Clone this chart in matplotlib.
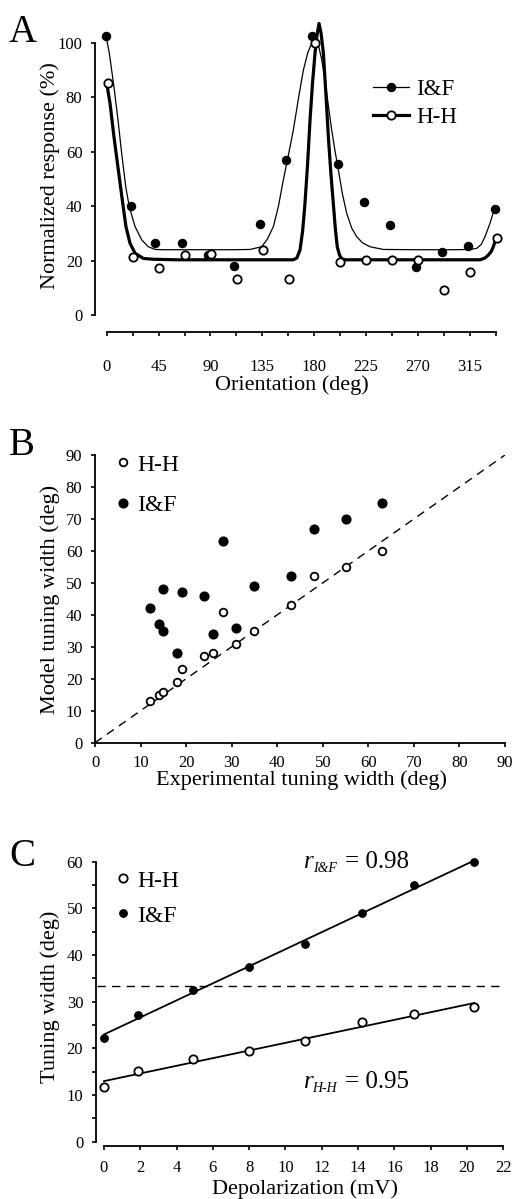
import numpy as np
import matplotlib
matplotlib.use("Agg")
import matplotlib.pyplot as plt
from matplotlib.lines import Line2D
from matplotlib.ticker import MultipleLocator
from matplotlib.transforms import offset_copy

plt.rcParams['font.family'] = ['Liberation Serif', 'DejaVu Serif']
plt.rcParams['lines.scale_dashes'] = False

# ---------------- Panel A data ----------------
orient_if = [-0.6, 20.8, 41.9, 65.1, 88.1, 110.7, 133.0, 155.6, 178.4, 200.9,
             223.5, 246.0, 268.4, 291.2, 313.7, 336.9]
resp_if = [102.6, 40.1, 26.5, 26.5, 21.9, 18.0, 33.6, 57.0, 102.7, 55.5,
           41.5, 33.2, 17.6, 23.3, 25.3, 39.0]
orient_hh = [0.9, 23.1, 45.6, 67.9, 90.2, 113.0, 135.3, 157.9, 180.7, 202.7,
             225.2, 247.8, 270.3, 292.9, 315.5, 338.4]
resp_hh = [85.2, 21.4, 17.4, 21.9, 22.4, 13.2, 23.9, 13.2, 100.0, 19.5,
           20.2, 20.2, 20.2, 9.1, 15.7, 28.2]

# fitted curves
fit_if_x = [-0.6, 2.3, 6.3, 9.8, 13.0, 16.5, 19.6, 24.6, 30.4, 36.1, 41.9, 50, 80,
            110, 124.3, 134.5, 139.5, 144.6, 149, 153.2, 157.5, 161.9, 166.5, 170.6,
            174.5, 177.9, 180.7, 183.5, 186.5, 189.4, 192.3, 195.2, 198.0, 201.0,
            204.5, 208.2, 212.5, 216.9, 222.0, 228.4, 240.0, 270, 300, 315, 321.0,
            325.0, 328.2, 332.5, 336.3]
fit_if_y = [102.6, 96.2, 83.9, 71.7, 59.4, 47.2, 39.8, 32.5, 27.6, 25.1, 24.1, 24.0, 24.0,
            24.0, 24.1, 25.1, 28.0, 32.5, 40.0, 49.6, 58.5, 68.0, 80.0, 90.0,
            96.5, 99.9, 101.0, 99.5, 94.0, 86.4, 77.0, 68.0, 60.5, 53.3,
            44.5, 37.4, 32.0, 28.8, 26.5, 25.1, 24.1, 24.0, 24.0, 24.1, 24.5,
            26.0, 28.8, 33.7, 38.9]
fit_hh_x = [0.0, 2.9, 6.3, 10.1, 13.9, 16.7, 20.2, 24.6, 31.8, 40.4, 60, 100, 140,
            161.9, 165.0, 167.7, 170.0, 172.0, 174.2, 176.4, 178.5, 180.7, 182.5,
            184.2, 186.0, 188.0, 190.2, 192.3, 194.5, 196.6, 198.3, 200.0, 202.0,
            203.9, 207.0, 230, 270, 300, 323.9, 328.0, 331.0, 333.5, 335.4, 337.8]
fit_hh_y = [85.2, 77.8, 65.5, 53.3, 41.1, 32.5, 26.4, 22.7, 20.8, 20.5, 20.3, 20.3, 20.3,
            20.3, 21.0, 23.9, 31.0, 41.0, 55.0, 71.7, 85.0, 96.2, 103.0,
            107.2, 103.5, 96.2, 81.0, 65.5, 52.0, 41.0, 32.0, 25.1, 22.0,
            20.7, 20.3, 20.3, 20.3, 20.3, 20.3, 20.9, 22.0, 23.3, 25.1, 28.2]

# ---------------- Panel B data ----------------
exp_hh = [12, 14, 15, 18, 19, 24, 26, 28, 31, 35, 43, 48, 55, 63]
mod_hh = [13, 15, 16, 19, 23, 27, 28, 41, 31, 35, 43, 52, 55, 60]
exp_if = [12, 14, 15, 15, 18, 19, 24, 26, 28, 31, 35, 43, 48, 55, 63]
mod_if = [42, 37, 35, 48, 28, 47, 46, 34, 63, 36, 49, 52, 67, 70, 75]

# ---------------- Panel C data ----------------
depol = [0.0, 1.9, 4.9, 8.0, 11.1, 14.2, 17.1, 20.4]
width_if = [22.3, 27.2, 32.5, 37.4, 42.3, 48.9, 55.0, 60.0]
width_hh = [11.8, 15.1, 17.8, 19.5, 21.5, 25.6, 27.4, 28.8]
exp_mean_width = 33.4
r_if_sub, r_if_val = 'I&F', '= 0.98'
r_hh_sub, r_hh_val = 'H-H', '= 0.95'

W, H = 513, 1199
fig = plt.figure(figsize=(W / 100, H / 100), dpi=100)


def fx(px):
    return px / W


def fy(py):
    return 1 - py / H


TICK_FS = 12
LABEL_FS = 16
LEG_FS = 17
LETTER_FS = 28

filled = dict(marker='o', ms=6, mfc='black', mec='black', mew=0.8, ls='none')
openm = dict(marker='o', ms=6, mfc='white', mec='black', mew=1.3, ls='none')


def style_axes(ax):
    for s in ('top', 'right'):
        ax.spines[s].set_visible(False)
    for s in ('left', 'bottom'):
        ax.spines[s].set_linewidth(1.3)
    ax.tick_params(which='both', direction='out', length=3, width=1.2,
                   labelsize=TICK_FS)


# ---------------- Panel A ----------------
axA = fig.add_axes([fx(95), fy(332.3), (500 - 95) / W, (332.3 - 15) / H])
style_axes(axA)
axA.set_xlim(-10.15, 341.2)
axA.set_ylim(-6.36, 110.3)
axA.spines['left'].set_bounds(0, 100)
axA.spines['bottom'].set_bounds(0, 337.5)
axA.xaxis.set_minor_locator(MultipleLocator(22.5))
axA.set_xticks(np.arange(0, 316, 45))
axA.set_yticks(np.arange(0, 101, 20))
axA.tick_params(axis='x', which='both', pad=16)
axA.tick_params(axis='y', pad=6)
axA.plot(fit_if_x, fit_if_y, color='black', lw=0.9, solid_joinstyle='round')
axA.plot(fit_hh_x, fit_hh_y, color='black', lw=2.3, solid_joinstyle='round')
axA.plot(orient_if, resp_if, clip_on=False, zorder=3, **filled)
axA.plot(orient_hh, resp_hh, clip_on=False, zorder=4, **openm)
axA.set_ylabel('Normalized response (%)', fontsize=LABEL_FS, va='center')
axA.yaxis.set_label_coords((50 - 95) / 405, (332.3 - 176) / 317.3)
axA.set_xlabel('Orientation (deg)', fontsize=LABEL_FS, va='center')
axA.xaxis.set_label_coords((292 - 95) / 405, -(385 - 332.3) / 317.3)
lineprops_f = {k: v for k, v in filled.items() if k != 'ls'}
lineprops_o = {k: v for k, v in openm.items() if k != 'ls'}
axA.legend(handles=[
    Line2D([], [], color='black', lw=0.9, **lineprops_f),
    Line2D([], [], color='black', lw=2.3, **lineprops_o)],
    labels=['I&F', 'H-H'], loc='upper left', bbox_to_anchor=(fx(373), fy(79)),
    bbox_transform=fig.transFigure, frameon=False, fontsize=LEG_FS - 0.5,
    handlelength=1.55, handletextpad=0.35, labelspacing=0.3, borderpad=0,
    borderaxespad=0)
fig.text(fx(9), fy(42), 'A', fontsize=LETTER_FS, va='baseline', ha='left')

# ---------------- Panel B ----------------
axB = fig.add_axes([fx(95), fy(742.7), (505 - 95) / W, (742.7 - 455) / H])
style_axes(axB)
axB.set_xlim(0, 90)
axB.set_ylim(0, 90)
axB.xaxis.set_major_locator(MultipleLocator(10))
axB.yaxis.set_major_locator(MultipleLocator(10))
axB.tick_params(axis='x', pad=6)
axB.tick_params(axis='y', pad=6)
axB.plot([0, 90], [0, 90], color='black', lw=1.0, dashes=(6, 4.5))
axB.plot(exp_if, mod_if, clip_on=False, zorder=3, **dict(filled, ms=6.5))
axB.plot(exp_hh, mod_hh, clip_on=False, zorder=4, **dict(openm, ms=5.5))
axB.set_ylabel('Model tuning width (deg)', fontsize=LABEL_FS, va='center')
axB.yaxis.set_label_coords((50 - 95) / 410, (742.7 - 599) / 287.7)
axB.set_xlabel('Experimental tuning width (deg)', fontsize=LABEL_FS, va='center')
axB.xaxis.set_label_coords((302 - 95) / 410, -(780 - 742.7) / 287.7)
axB.legend(handles=[
    Line2D([], [], **dict(openm, ms=5.5)),
    Line2D([], [], **dict(filled, ms=6.5))],
    labels=['H-H', 'I&F'], loc='upper left', bbox_to_anchor=(fx(117), fy(454)),
    bbox_transform=fig.transFigure, frameon=False, fontsize=LEG_FS,
    handlelength=0.5, handletextpad=0.35, labelspacing=0.8, borderpad=0,
    borderaxespad=0)
fig.text(fx(9), fy(455), 'B', fontsize=LETTER_FS, va='baseline', ha='left')

# ---------------- Panel C ----------------
axC = fig.add_axes([fx(95.7), fy(1145.7), (503.3 - 95.7) / W, (1145.7 - 850) / H])
style_axes(axC)
axC.set_xlim(-0.457, 22.0)
axC.set_ylim(-0.857, 62.5)
axC.spines['left'].set_bounds(0, 60)
axC.spines['bottom'].set_bounds(0, 22)
axC.xaxis.set_major_locator(MultipleLocator(2))
axC.yaxis.set_major_locator(MultipleLocator(10))
axC.yaxis.set_minor_locator(MultipleLocator(5))
axC.tick_params(axis='x', pad=7)
axC.tick_params(axis='y', pad=6)
xs = np.array([depol[0], depol[-1]])
p_if = np.polyfit(depol, width_if, 1)
p_hh = np.polyfit(depol, width_hh, 1)
axC.plot(xs, np.polyval(p_if, xs), color='black', lw=1.3)
axC.plot(xs, np.polyval(p_hh, xs), color='black', lw=1.3)
axC.plot([-0.4, 21.8], [exp_mean_width, exp_mean_width], color='black', lw=1.0,
         dashes=(6, 4.5))
axC.plot(depol, width_if, clip_on=False, zorder=3, **dict(filled, ms=5.5))
axC.plot(depol, width_hh, clip_on=False, zorder=4, **dict(openm, ms=6))


def r_label(ax, x, y, sub, val):
    ax.text(x, y, 'r', fontsize=18, style='italic', ha='left', va='baseline')
    t2 = offset_copy(ax.transData, fig=fig, x=9 * 0.72, y=-4 * 0.72, units='points')
    ax.text(x, y, sub, fontsize=10, style='italic', ha='left', va='baseline',
            transform=t2)
    t3 = offset_copy(ax.transData, fig=fig, x=41 * 0.72, y=0, units='points')
    ax.text(x, y, val, fontsize=18, ha='left', va='baseline', transform=t3)


r_label(axC, 11.0, 58.6, r_if_sub, r_if_val)
r_label(axC, 11.0, 11.5, r_hh_sub, r_hh_val)
axC.set_ylabel('Tuning width (deg)', fontsize=LABEL_FS, va='center')
axC.yaxis.set_label_coords((50 - 95.7) / 407.6, (1145.7 - 997) / 295.7)
axC.set_xlabel('Depolarization (mV)', fontsize=LABEL_FS, va='center')
axC.xaxis.set_label_coords((305 - 95.7) / 407.6, -(1189 - 1145.7) / 295.7)
axC.legend(handles=[
    Line2D([], [], **dict(openm, ms=6)),
    Line2D([], [], **dict(filled, ms=5.5))],
    labels=['H-H', 'I&F'], loc='upper left', bbox_to_anchor=(fx(117), fy(870)),
    bbox_transform=fig.transFigure, frameon=False, fontsize=LEG_FS,
    handlelength=0.5, handletextpad=0.35, labelspacing=0.57, borderpad=0,
    borderaxespad=0)
fig.text(fx(9), fy(866), 'C', fontsize=LETTER_FS, va='baseline', ha='left')

fig.savefig('out.png', dpi=100)
